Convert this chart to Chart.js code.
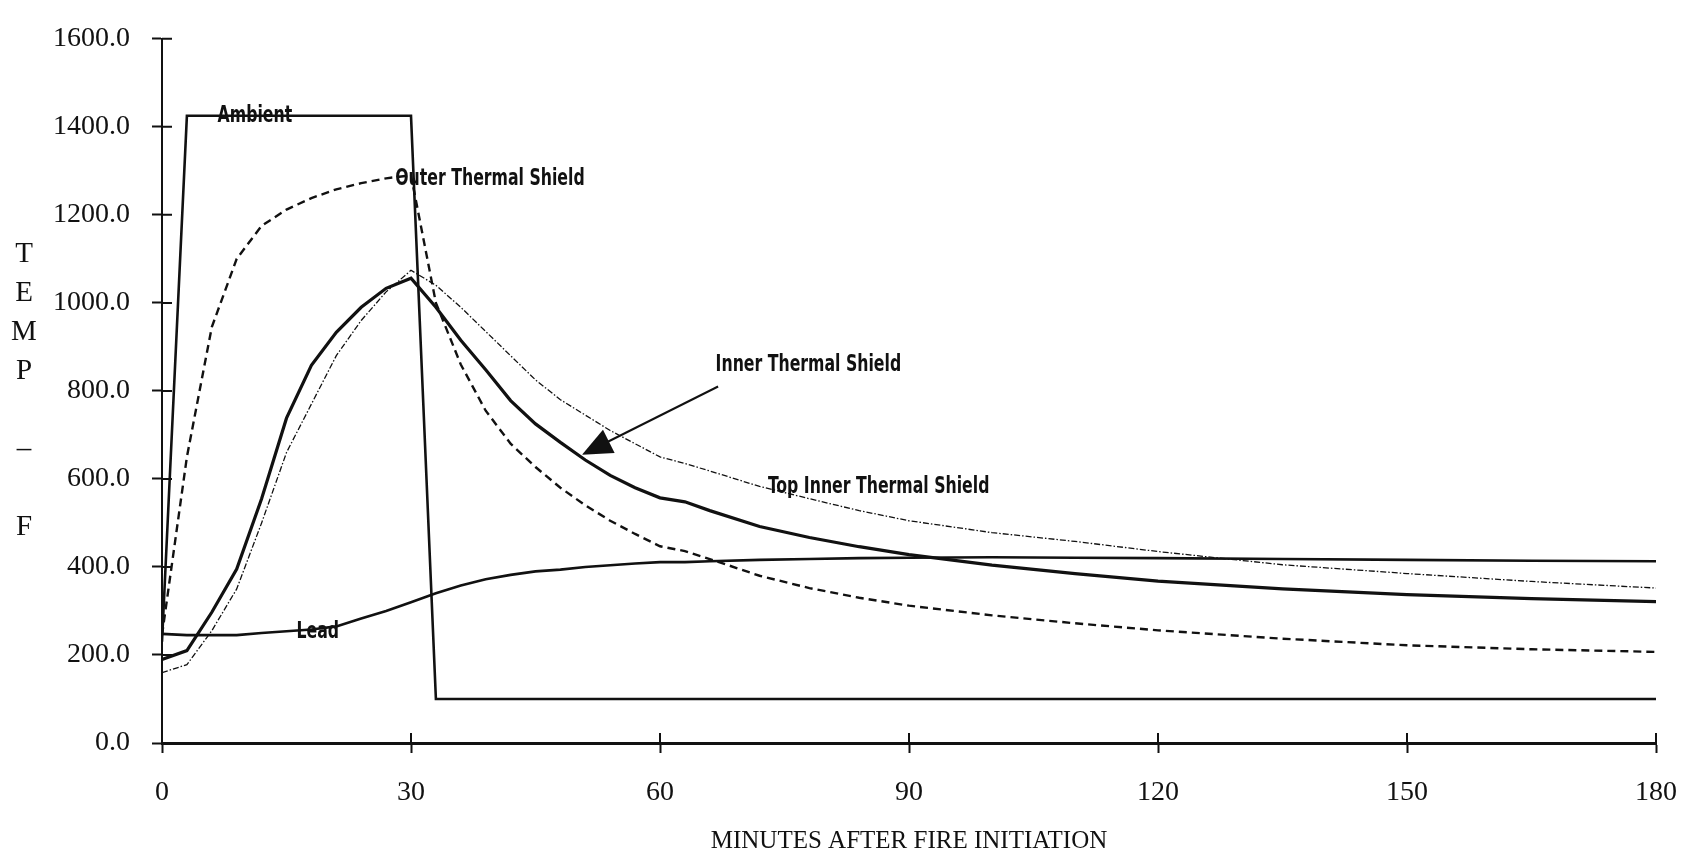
<!DOCTYPE html>
<html>
<head>
<meta charset="utf-8">
<title>Fire test temperatures</title>
<script src="https://cdn.jsdelivr.net/npm/chart.js@4.4.1/dist/chart.umd.min.js"></script>
<style>
  html, body { margin: 0; padding: 0; background: #fff; }
  #wrap { width: 1700px; height: 864px; position: relative; }
</style>
</head>
<body>
<div id="wrap"><canvas id="fireChart"></canvas></div>
<script>
// sample times, minutes after fire initiation
const minutes = [0, 3, 6, 9, 12, 15, 18, 21, 24, 27, 30, 33, 36, 39, 42, 45, 48, 51, 54, 57, 60,
  63, 66, 72, 78, 84, 90, 100, 110, 120, 135, 150, 165, 180];

// temperatures (deg F) at those times
const ambient = [230, 1425, 1425, 1425, 1425, 1425, 1425, 1425, 1425, 1425, 1425, 100, 100, 100, 100, 100, 100, 100, 100, 100, 100,
  100, 100, 100, 100, 100, 100, 100, 100, 100, 100, 100, 100, 100];
const outerShield = [245, 650, 945, 1100, 1175, 1212, 1238, 1258, 1272, 1283, 1290, 1000, 860, 755, 680, 627, 580, 540, 505, 475, 447,
  436, 418, 380, 352, 330, 312, 290, 272, 256, 237, 222, 213, 207];
const innerShield = [190, 210, 297, 395, 555, 738, 858, 933, 990, 1033, 1056, 990, 915, 848, 778, 725, 683, 643, 608, 580, 557,
  548, 528, 492, 467, 446, 428, 404, 385, 368, 350, 337, 328, 321];
const topInnerShield = [160, 178, 255, 350, 500, 660, 770, 880, 960, 1025, 1074, 1040, 990, 935, 880, 825, 780, 745, 710, 680, 650,
  635, 618, 583, 555, 528, 505, 478, 458, 435, 405, 385, 367, 352];
const lead = [248, 245, 245, 245, 250, 254, 258, 265, 283, 300, 320, 340, 358, 372, 382, 390, 394, 400, 404, 408, 411,
  411, 413, 416, 418, 420, 421, 422, 421, 420, 418, 416, 414, 413];

// axis ticks
const xTicks = [0, 30, 60, 90, 120, 150, 180];
const yTicks = [0, 200, 400, 600, 800, 1000, 1200, 1400, 1600];
const yTitleLines = ['T', 'E', 'M', 'P', '', '\u2013', '', 'F'];

// curve names written on the plot (anchored in data units)
const curveLabels = [
  { text: 'Ambient', at: [6.7, 1425] },
  { text: 'Outer Thermal Shield', at: [28.1, 1282] },
  { text: 'Inner Thermal Shield', at: [66.7, 859] },
  { text: 'Top Inner Thermal Shield', at: [73.0, 581] },
  { text: 'Lead', at: [16.2, 252] }
];
const arrowFrom = [67.0, 810];
const arrowTo = [50.6, 655];

const ink = '#111';
const serif = '"Liberation Serif", "Times New Roman", serif';
const labelFont = 'bold 23px "DejaVu Sans Condensed", "DejaVu Sans", sans-serif';
const labelSqueeze = 0.76; // the plot lettering is narrow

const pts = arr => minutes.map((m, i) => ({ x: m, y: arr[i] }));

// stacked y title, inner halves of tick marks, curve names and the arrow
const annotate = {
  id: 'annotate',
  afterDraw(chart) {
    const { ctx, chartArea: area, scales: { x, y } } = chart;
    ctx.save();
    ctx.strokeStyle = ink;
    ctx.fillStyle = ink;

    ctx.lineWidth = 2;
    ctx.beginPath();
    y.ticks.forEach(t => {
      const py = y.getPixelForValue(t.value);
      ctx.moveTo(area.left, py);
      ctx.lineTo(area.left + 10, py);
    });
    x.ticks.forEach(t => {
      const px = x.getPixelForValue(t.value);
      ctx.moveTo(px, area.bottom);
      ctx.lineTo(px, area.bottom - 10);
    });
    ctx.stroke();

    ctx.font = '29px ' + serif;
    ctx.textAlign = 'center';
    ctx.textBaseline = 'middle';
    const step = 39;
    const mid = (area.top + area.bottom) / 2;
    yTitleLines.forEach((ch, i) => {
      ctx.fillText(ch, 24, mid + (i - (yTitleLines.length - 1) / 2) * step);
    });

    ctx.font = labelFont;
    ctx.textAlign = 'left';
    curveLabels.forEach(l => {
      ctx.save();
      ctx.translate(x.getPixelForValue(l.at[0]), y.getPixelForValue(l.at[1]));
      ctx.scale(labelSqueeze, 1);
      ctx.fillText(l.text, 0, 0);
      ctx.restore();
    });

    const x0 = x.getPixelForValue(arrowFrom[0]), y0 = y.getPixelForValue(arrowFrom[1]);
    const x1 = x.getPixelForValue(arrowTo[0]), y1 = y.getPixelForValue(arrowTo[1]);
    const len = Math.hypot(x0 - x1, y0 - y1);
    const ux = (x0 - x1) / len, uy = (y0 - y1) / len;
    ctx.lineWidth = 2;
    ctx.beginPath();
    ctx.moveTo(x0, y0);
    ctx.lineTo(x1 + ux * 20, y1 + uy * 20);
    ctx.stroke();
    const head = 30, half = 13;
    ctx.beginPath();
    ctx.moveTo(x1, y1);
    ctx.lineTo(x1 + ux * head - uy * half, y1 + uy * head + ux * half);
    ctx.lineTo(x1 + ux * head + uy * half, y1 + uy * head - ux * half);
    ctx.closePath();
    ctx.fill();
    ctx.restore();
  }
};

const line = (label, arr, width, dash) => ({
  label,
  data: pts(arr),
  borderColor: ink,
  borderWidth: width,
  borderDash: dash,
  pointRadius: 0,
  tension: 0,
  fill: false
});

new Chart(document.getElementById('fireChart').getContext('2d'), {
  type: 'line',
  data: {
    datasets: [
      line('Ambient', ambient, 2.6, []),
      line('Outer Thermal Shield', outerShield, 2.4, [8, 5]),
      line('Inner Thermal Shield', innerShield, 3.2, []),
      line('Top Inner Thermal Shield', topInnerShield, 1.3, [6, 2, 1.5, 2]),
      line('Lead', lead, 2.6, [])
    ]
  },
  options: {
    responsive: true,
    maintainAspectRatio: false,
    animation: false,
    layout: { padding: { top: 28, right: 30, bottom: 0, left: 0 } },
    plugins: {
      legend: { display: false },
      tooltip: { enabled: false }
    },
    scales: {
      x: {
        type: 'linear',
        min: 0,
        max: 180,
        afterBuildTicks: s => { s.ticks = xTicks.map(v => ({ value: v })); },
        afterFit: s => { s.height = 121; },
        border: { color: ink, width: 3 },
        grid: { drawOnChartArea: false, tickLength: 10, tickWidth: 2, tickColor: ink },
        ticks: { color: ink, font: { family: serif, size: 28 }, padding: 23, maxRotation: 0, autoSkip: false },
        title: {
          display: true,
          text: 'MINUTES AFTER FIRE INITIATION',
          color: ink,
          font: { family: serif, size: 25 },
          padding: { top: 0, bottom: 8 }
        }
      },
      y: {
        type: 'linear',
        min: 0,
        max: 1600,
        afterBuildTicks: s => { s.ticks = yTicks.map(v => ({ value: v })); },
        afterFit: s => { s.width = 162; },
        border: { color: ink, width: 2 },
        grid: { drawOnChartArea: false, tickLength: 10, tickWidth: 2, tickColor: ink },
        ticks: { color: ink, font: { family: serif, size: 28 }, padding: 22, callback: v => Number(v).toFixed(1) }
      }
    }
  },
  plugins: [annotate]
});
</script>
</body>
</html>
